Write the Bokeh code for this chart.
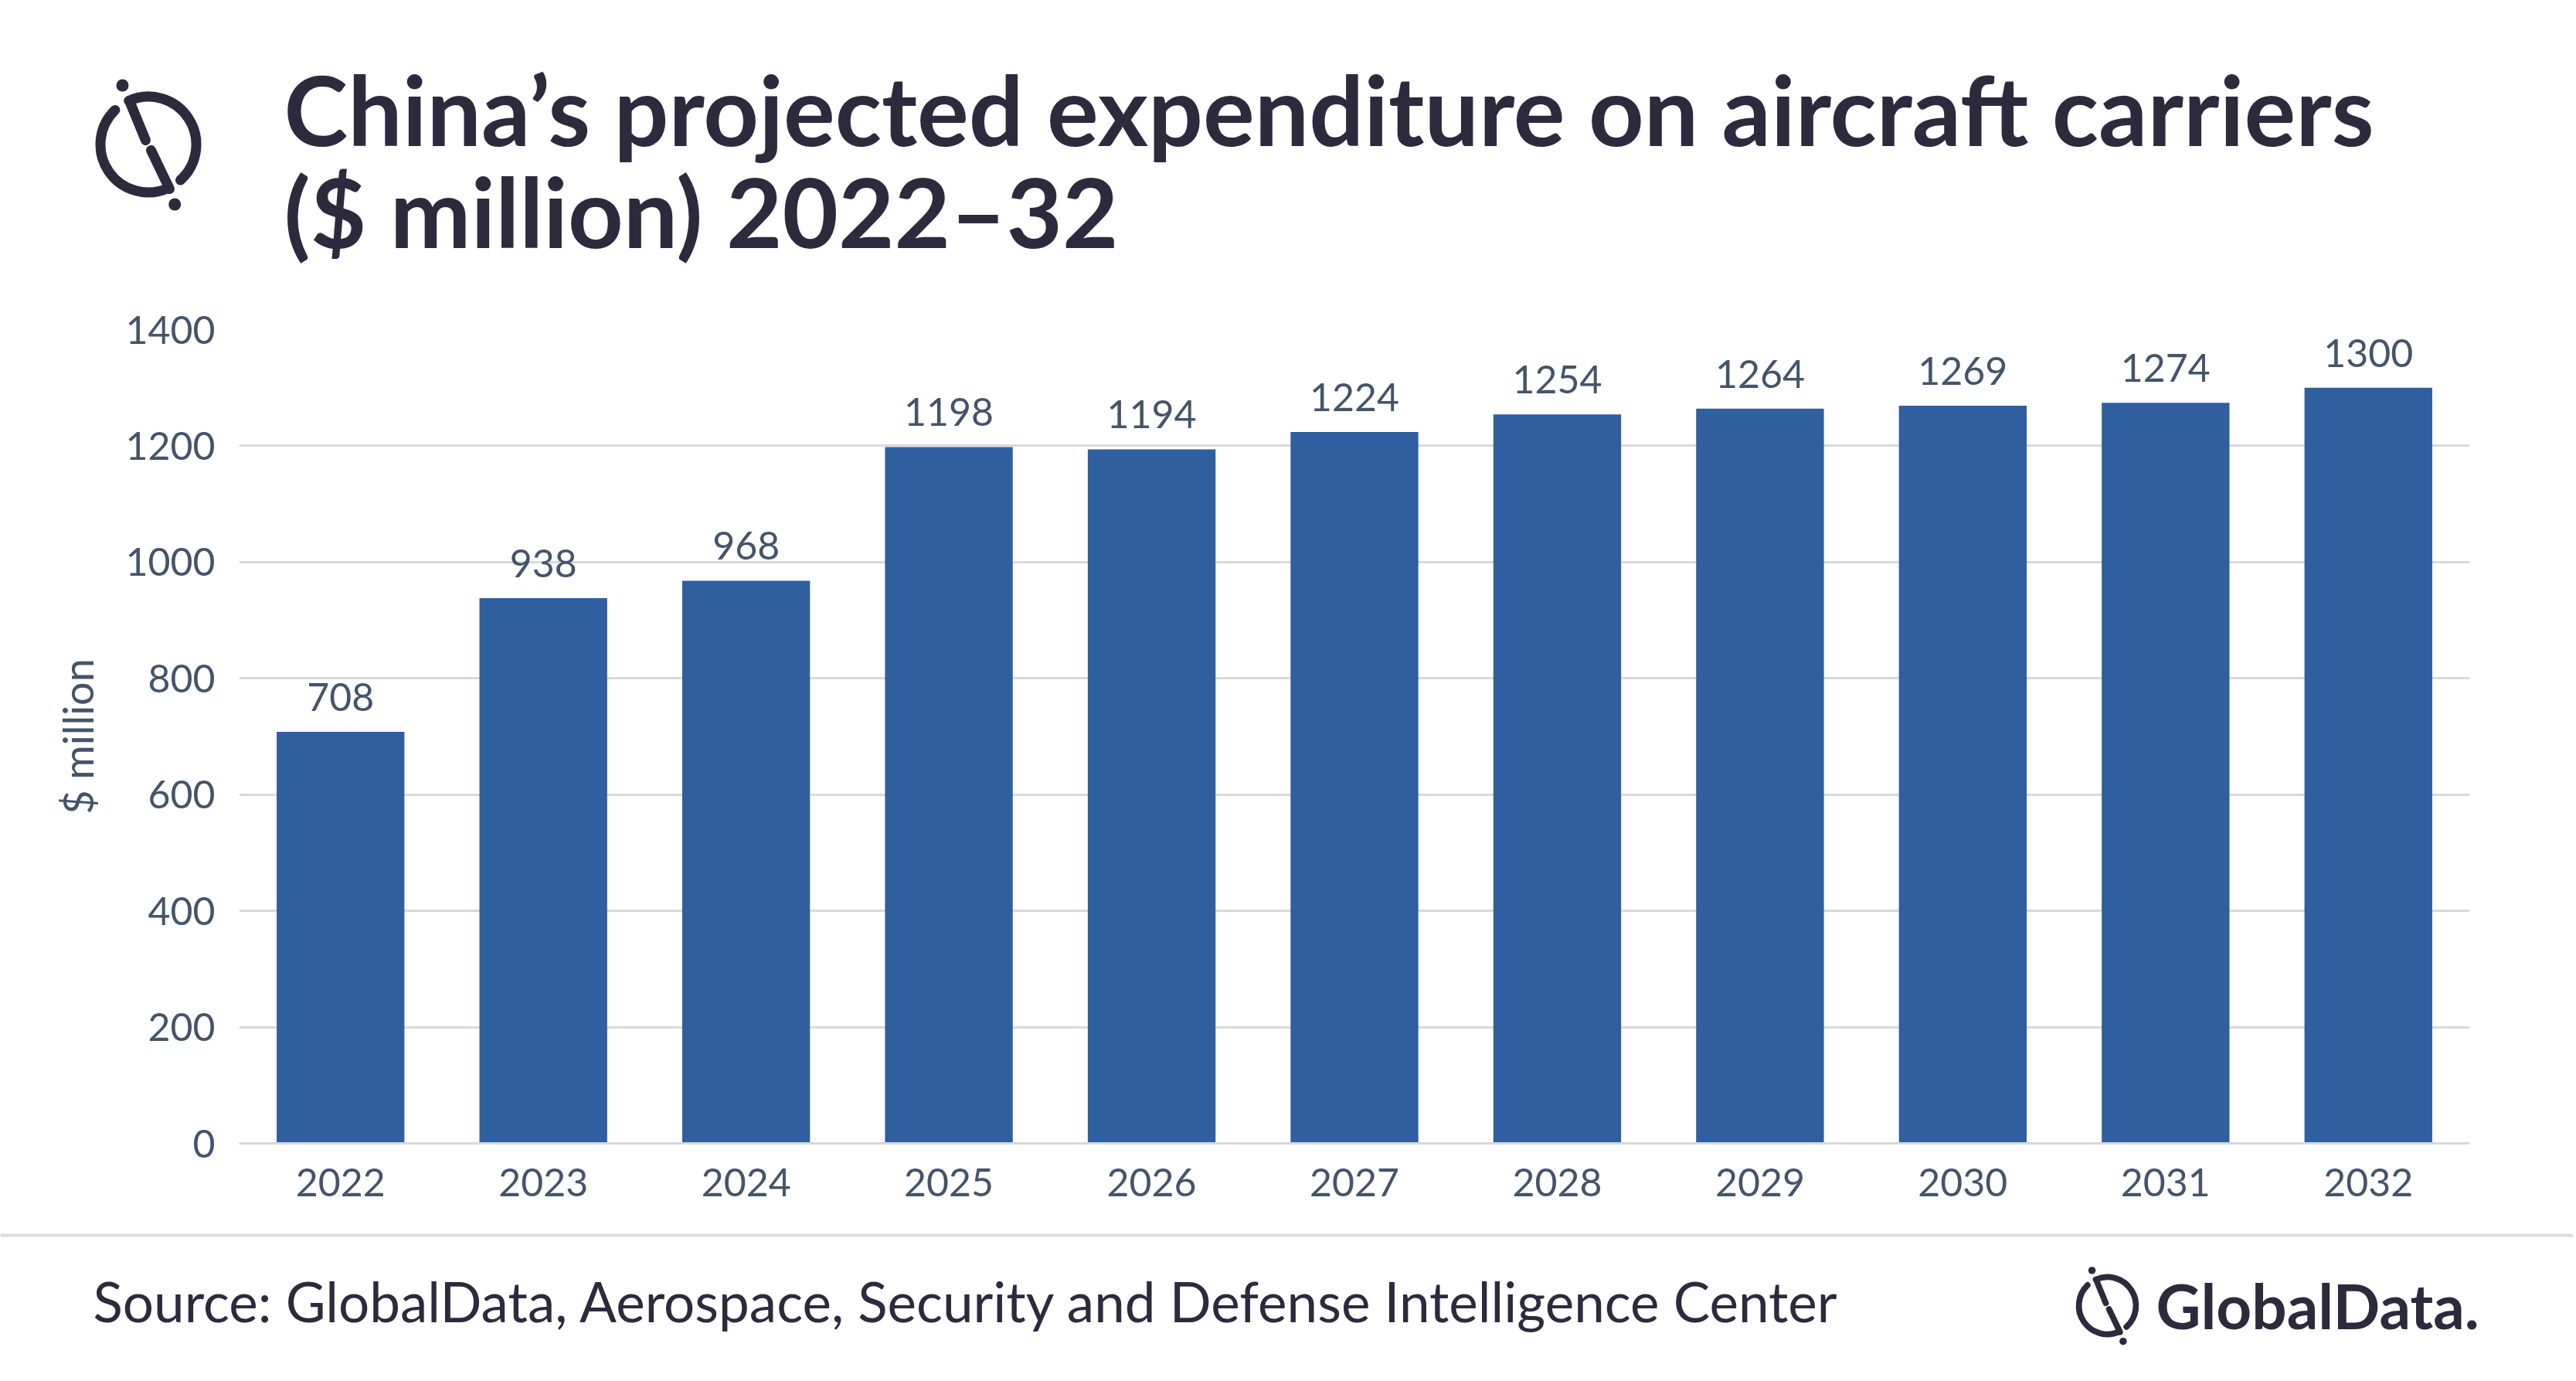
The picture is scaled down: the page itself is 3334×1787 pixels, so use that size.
import math
from bokeh.plotting import figure
from bokeh.layouts import column
from bokeh.models import Range1d, FactorRange, FixedTicker, Label, ColumnDataSource
from bokeh.core.properties import value
from bokeh.embed import file_html
from bokeh.resources import INLINE

# ---------------- data ----------------
years = ["2022", "2023", "2024", "2025", "2026", "2027", "2028", "2029", "2030", "2031", "2032"]
spend = [708, 938, 968, 1198, 1194, 1224, 1254, 1264, 1269, 1274, 1300]
y_ticks = [0, 200, 400, 600, 800, 1000, 1200, 1400]
title_lines = ["China\u2019s projected expenditure on aircraft carriers", "($ million) 2022\u201332"]
y_label = "$ million"
source_text = "Source: GlobalData, Aerospace, Security and Defense Intelligence Center"
brand = "GlobalData."

# ---------------- style ----------------
W = 3330
H_HEAD, H_MAIN, H_FOOT = 390, 1200, 190
DARK = "#2d2a3e"
AXIS_TXT = "#44546a"
BAR = "#305f9f"
GRID = "#d9d9d9"
FONT = "Lato"


def bare(h):
    f = figure(width=W, height=h, x_range=Range1d(0, W), y_range=Range1d(0, h),
               x_axis_type=None, y_axis_type=None, toolbar_location=None,
               output_backend="svg", min_border=0, frame_align=False)
    f.min_border_left = f.min_border_right = f.min_border_top = f.min_border_bottom = 0
    f.grid.visible = False
    f.outline_line_color = None
    return f


def logo(f, cx, cy, s):
    r = 62 * s
    lw = 13 * s
    f.arc(x=[cx], y=[cy], radius=r, start_angle=math.radians(-48), end_angle=math.radians(114),
          direction="anticlock", line_width=lw, line_color=DARK, line_cap="round")
    f.arc(x=[cx], y=[cy], radius=r, start_angle=math.radians(134), end_angle=math.radians(295),
          direction="anticlock", line_width=lw, line_color=DARK, line_cap="round")
    segs = [(-24.5, -56.5, -3.5, -5.5), (3.5, 7.5, 27.5, 57.5)]
    f.segment(x0=[cx + a * s for a, b, c, d in segs], y0=[cy - b * s for a, b, c, d in segs],
              x1=[cx + c * s for a, b, c, d in segs], y1=[cy - d * s for a, b, c, d in segs],
              line_width=lw, line_color=DARK, line_cap="round")
    dots = [(-33.5, -76.5), (34.2, 77.5)]
    f.circle(x=[cx + a * s for a, b in dots], y=[cy - b * s for a, b in dots], radius=8 * s,
             fill_color=DARK, line_color=None)


# ---------------- header ----------------
head = bare(H_HEAD)
logo(head, 191.5, 203.5, 1.0)
for txt, yb in zip(title_lines, [250, 118]):
    head.add_layout(Label(x=367, y=yb, text=txt, text_font=FONT, text_font_style="bold",
                          text_font_size="125px", text_color=DARK, text_baseline="alphabetic",
                          text_align="left"))

# ---------------- main chart ----------------
src = ColumnDataSource(dict(year=years, spend=spend, lab=[str(v) for v in spend]))
p = figure(width=W, height=H_MAIN, x_range=FactorRange(*years), y_range=Range1d(0, 1400),
           toolbar_location=None, output_backend="svg", frame_align=False,
           min_border_left=309, min_border_right=W - 3196, min_border_top=36, min_border_bottom=111)
p.outline_line_color = None
p.vbar(x="year", top="spend", width=0.63, source=src, fill_color=BAR, line_color=None)
p.text(x="year", y="spend", text="lab", source=src, text_align="center", text_baseline="alphabetic",
       y_offset=-45, text_font=value(FONT), text_font_size="50px", text_color=AXIS_TXT)

p.xgrid.visible = False
p.ygrid.grid_line_color = GRID
p.ygrid.grid_line_width = 3
p.yaxis.ticker = FixedTicker(ticks=y_ticks)
p.yaxis.axis_line_color = None
p.yaxis.major_tick_line_color = None
p.yaxis.minor_tick_line_color = None
p.yaxis.major_label_standoff = 25
p.yaxis.axis_label = y_label
p.yaxis.axis_label_standoff = 26
p.yaxis.axis_label_text_font_style = "normal"
p.yaxis.axis_label_text_font_size = "54px"
p.yaxis.axis_label_text_font = FONT
p.yaxis.axis_label_text_color = AXIS_TXT

p.xaxis.axis_line_color = GRID
p.xaxis.axis_line_width = 3
p.xaxis.major_tick_line_color = None
p.xaxis.minor_tick_line_color = None
p.xaxis.major_label_standoff = 26
for ax in (p.xaxis, p.yaxis):
    ax.major_label_text_font = FONT
    ax.major_label_text_font_size = "50px"
    ax.major_label_text_color = AXIS_TXT

# ---------------- footer ----------------
foot = bare(H_FOOT)
foot.segment(x0=[0], y0=[182], x1=[W], y1=[182], line_width=4, line_color="#dcdcdc")
foot.add_layout(Label(x=120, y=97, text=source_text, text_font=FONT, text_font_size="71px",
                      text_color=DARK, text_baseline="alphabetic", text_align="left"))
logo(foot, 2727, 91, 0.596)
foot.add_layout(Label(x=2790, y=92, text=brand, text_font=FONT, text_font_style="bold",
                      text_font_size="80px", text_color=DARK, text_baseline="alphabetic",
                      text_align="left"))

layout = column(head, p, foot, spacing=0)
open("out.html", "w").write(file_html(layout, INLINE))
